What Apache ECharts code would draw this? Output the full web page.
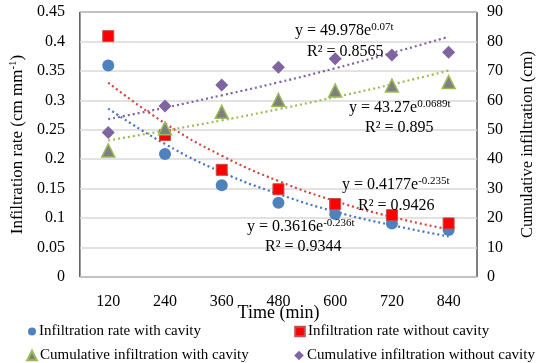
<!DOCTYPE html>
<html>
<head>
<meta charset="utf-8">
<script src="https://cdn.jsdelivr.net/npm/echarts@6/dist/echarts.min.js"></script>
<style>
  html, body { margin: 0; padding: 0; background: #fff; }
  #chart { width: 544px; height: 363px; }
</style>
</head>
<body>
<div id="chart"></div>
<script>
// time categories (min)
const times = ["120", "240", "360", "480", "600", "720", "840"];

// infiltration rate (cm mm-1), left axis
const rateWith = [0.359, 0.209, 0.156, 0.126, 0.107, 0.091, 0.08];
const rateWithout = [0.409, 0.241, 0.182, 0.149, 0.124, 0.105, 0.091];

// cumulative infiltration (cm), right axis
const cumWith = [43, 50.5, 56.1, 60.1, 63.3, 65, 66.2];
const cumWithout = [49.1, 58.1, 65.2, 71.2, 74.1, 75.4, 76.3];

// exponential trendlines as drawn
const trendRateWith = [0.286, 0.226, 0.178, 0.141, 0.111, 0.088, 0.069];
const trendRateWithout = [0.330, 0.261, 0.206, 0.163, 0.129, 0.102, 0.081];
const trendCumWith = [46.4, 49.7, 53.2, 57.0, 61.1, 65.4, 70.1];
const trendCumWithout = [53.6, 57.5, 61.7, 66.1, 70.9, 76.1, 81.6];

const font = "Liberation Serif";
const chart = echarts.init(document.getElementById("chart"));

function trend(data, color, yIdx) {
  return {
    type: "line",
    data: data,
    yAxisIndex: yIdx,
    smooth: true,
    symbol: "none",
    silent: true,
    z: 1,
    lineStyle: { color: color, width: 2.2, type: [2, 3] }
  };
}

function eq(x, y, base, sup) {
  return {
    type: "text",
    left: x,
    top: y,
    style: {
      text: "{b|" + base + "}{s|" + sup + "}",
      rich: {
        b: { fontFamily: font, fontSize: 16, lineHeight: 18, fill: "#000" },
        s: { fontFamily: font, fontSize: 11, fill: "#000", verticalAlign: "top", padding: [0, 0, 6, 0] }
      }
    },
    z: 10
  };
}
function r2(x, y, txt) {
  return {
    type: "text",
    left: x,
    top: y,
    style: { text: txt, fontFamily: font, fontSize: 16, lineHeight: 18, fill: "#000" },
    z: 10
  };
}

const legendText = { fontFamily: font, fontSize: 15, color: "#000", padding: [0, 0, 0, -3] };
function leg(name, left, top, w) {
  return {
    left: left, top: top, itemWidth: w, itemHeight: w,
    textStyle: legendText, data: [name]
  };
}

chart.setOption({
  animation: false,
  grid: {
    left: 62, right: 52, top: 12, bottom: 86,
    show: true, borderColor: "#000", borderWidth: 1
  },
  legend: [
    leg("Infiltration rate with cavity", 22, 319, 10),
    leg("Infiltration rate without cavity", 289, 319, 12),
    leg("Cumulative infiltration with cavity", 21, 343, 12),
    leg("Cumulative infiltration without cavity", 288, 343, 12)
  ],
  xAxis: {
    type: "category",
    data: times,
    boundaryGap: true,
    axisLine: { show: false },
    axisTick: { show: false },
    axisLabel: { fontFamily: font, fontSize: 16, color: "#000", margin: 17 },
    name: "Time (min)",
    nameLocation: "middle",
    nameGap: 27,
    nameMoveOverlap: false,
    nameTextStyle: { fontFamily: font, fontSize: 18, color: "#000" }
  },
  yAxis: [
    {
      type: "value", min: 0, max: 0.45, interval: 0.05,
      axisLine: { show: false }, axisTick: { show: false },
      axisLabel: { fontFamily: font, fontSize: 16, color: "#000", margin: 15 },
      splitLine: { lineStyle: { color: "#d9d9d9", width: 1.5 } },
      name: "{a|Infiltration rate (cm mm}{s|-1}{a|)}",
      nameLocation: "middle",
      nameGap: 47,
      nameTextStyle: {
        rich: {
          a: { fontFamily: font, fontSize: 17, color: "#000" },
          s: { fontFamily: font, fontSize: 11, color: "#000", verticalAlign: "top", padding: [0, 0, 8, 0] }
        }
      }
    },
    {
      type: "value", min: 0, max: 90, interval: 10,
      axisLine: { show: false }, axisTick: { show: false },
      axisLabel: { fontFamily: font, fontSize: 16, color: "#000", margin: 10 },
      splitLine: { show: false },
      name: "Cumulative infiltration (cm)",
      nameLocation: "middle",
      nameGap: 42,
      nameRotate: 90,
      nameTextStyle: { fontFamily: font, fontSize: 16.5, color: "#000" }
    }
  ],
  series: [
    trend(trendRateWith, "#4472c4", 0),
    trend(trendRateWithout, "#d0463f", 0),
    trend(trendCumWith, "#9bbb59", 1),
    trend(trendCumWithout, "#8064a2", 1),
    {
      name: "Infiltration rate with cavity", type: "line", data: rateWith, yAxisIndex: 0,
      symbol: "circle", symbolSize: 12, lineStyle: { width: 0 }, z: 5,
      itemStyle: { color: "#4f81bd" }
    },
    {
      name: "Infiltration rate without cavity", type: "line", data: rateWithout, yAxisIndex: 0,
      symbol: "rect", symbolSize: 11, lineStyle: { width: 0 }, z: 5,
      itemStyle: { color: "#ff0000", borderColor: "#c0504d", borderWidth: 1 }
    },
    {
      name: "Cumulative infiltration with cavity", type: "line", data: cumWith, yAxisIndex: 1,
      symbol: "triangle", symbolSize: 13, lineStyle: { width: 0 }, z: 5,
      itemStyle: { color: "#7f7f7f", borderColor: "#9bbb59", borderWidth: 1.5 }
    },
    {
      name: "Cumulative infiltration without cavity", type: "line", data: cumWithout, yAxisIndex: 1,
      symbol: "diamond", symbolSize: 13, lineStyle: { width: 0 }, z: 5,
      itemStyle: { color: "#8064a2" }
    }
  ],
  graphic: [
    eq(295, 22, "y = 49.978e", "0.07t"),
    r2(307, 43, "R² = 0.8565"),
    eq(349, 99, "y = 43.27e", "0.0689t"),
    r2(365, 119, "R² = 0.895"),
    eq(342, 176, "y = 0.4177e", "-0.235t"),
    r2(358, 197, "R² = 0.9426"),
    eq(247, 218, "y = 0.3616e", "-0.236t"),
    r2(265, 238, "R² = 0.9344")
  ]
});
</script>
</body>
</html>
